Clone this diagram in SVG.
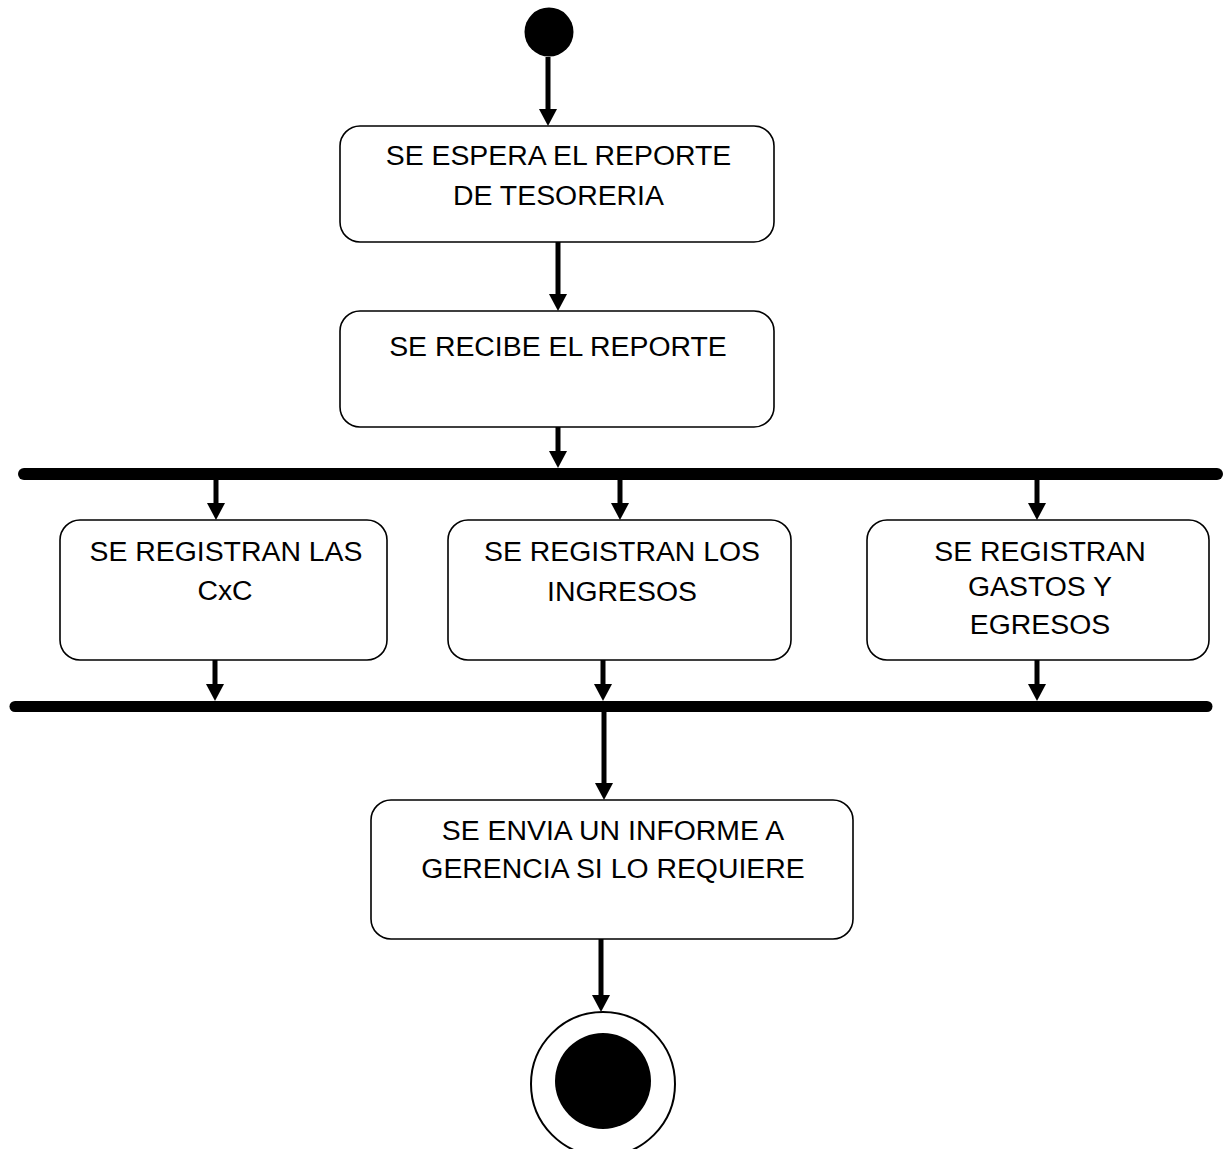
<svg xmlns="http://www.w3.org/2000/svg" width="1225" height="1149" viewBox="0 0 1225 1149">
<style>
.box{fill:#fff;stroke:#000;stroke-width:1.6}
.t{font-family:"Liberation Sans",Arial,sans-serif;font-size:28.4px;fill:#000;text-anchor:middle}
.c{stroke:#000;stroke-width:5;fill:none}
.bar{stroke:#000;stroke-linecap:round;fill:none}
</style>
<defs>
<marker id="ah" markerUnits="userSpaceOnUse" markerWidth="18" markerHeight="18" viewBox="0 0 17 18" refX="0" refY="9" orient="auto">
<path d="M0,0 L17,9 L0,18 Z" fill="#000"/>
</marker>
</defs>
<rect width="1225" height="1149" fill="#fff"/>
<g id="connectors">
<path class="c" marker-end="url(#ah)" d="M548,57 V109"/>
<path class="c" marker-end="url(#ah)" d="M558,242 V294"/>
<path class="c" marker-end="url(#ah)" d="M558,427 V451"/>
<path class="c" marker-end="url(#ah)" d="M216,480 V503"/>
<path class="c" marker-end="url(#ah)" d="M620,480 V503"/>
<path class="c" marker-end="url(#ah)" d="M1037,480 V503"/>
<path class="c" marker-end="url(#ah)" d="M215,660 V684"/>
<path class="c" marker-end="url(#ah)" d="M603,660 V684"/>
<path class="c" marker-end="url(#ah)" d="M1037,660 V684"/>
<path class="c" marker-end="url(#ah)" d="M604,712 V783"/>
<path class="c" marker-end="url(#ah)" d="M601,939 V995"/>
</g>
<g id="start"><circle cx="549" cy="32" r="24.5" fill="#000"/></g>
<g id="n1">
<rect class="box" x="340" y="126" width="434" height="116" rx="20"/>
<text class="t" x="558.5" y="165">SE ESPERA EL REPORTE</text>
<text class="t" x="558.5" y="205">DE TESORERIA</text>
</g>
<g id="n2">
<rect class="box" x="340" y="311" width="434" height="116" rx="20"/>
<text class="t" x="558" y="356">SE RECIBE EL REPORTE</text>
</g>
<g id="fork"><line class="bar" x1="24" y1="474" x2="1217" y2="474" stroke-width="12"/></g>
<g id="n3">
<rect class="box" x="60" y="520" width="327" height="140" rx="20"/>
<text class="t" x="226" y="561">SE REGISTRAN LAS</text>
<text class="t" x="225" y="600">CxC</text>
</g>
<g id="n4">
<rect class="box" x="448" y="520" width="343" height="140" rx="20"/>
<text class="t" x="622" y="561">SE REGISTRAN LOS</text>
<text class="t" x="622" y="601">INGRESOS</text>
</g>
<g id="n5">
<rect class="box" x="867" y="520" width="342" height="140" rx="20"/>
<text class="t" x="1040" y="561">SE REGISTRAN</text>
<text class="t" x="1040" y="596">GASTOS Y</text>
<text class="t" x="1040" y="634">EGRESOS</text>
</g>
<g id="join"><line class="bar" x1="15" y1="706.5" x2="1207" y2="706.5" stroke-width="11"/></g>
<g id="n6">
<rect class="box" x="371" y="800" width="482" height="139" rx="20"/>
<text class="t" x="613" y="840">SE ENVIA UN INFORME A</text>
<text class="t" x="613" y="878">GERENCIA SI LO REQUIERE</text>
</g>
<g id="end">
<circle cx="603" cy="1084" r="72" fill="#fff" stroke="#000" stroke-width="2"/>
<circle cx="603" cy="1081" r="48" fill="#000"/>
</g>
</svg>
